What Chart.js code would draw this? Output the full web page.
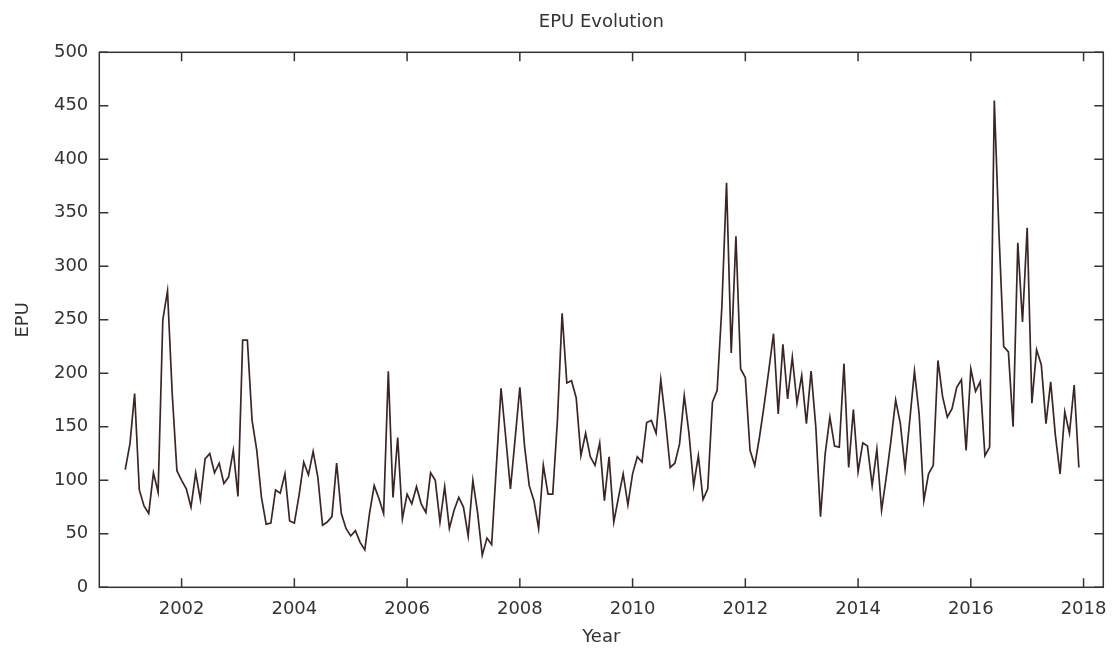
<!DOCTYPE html>
<html>
<head>
<meta charset="utf-8">
<title>EPU Evolution</title>
<script src="https://cdn.jsdelivr.net/npm/chart.js@4.4.1/dist/chart.umd.min.js"></script>
<style>
  html, body { margin: 0; padding: 0; background: #ffffff; }
  #wrap { width: 1115px; height: 651px; }
</style>
</head>
<body>
<div id="wrap"><canvas id="epuChart" width="1115" height="651"></canvas></div>
<script>
// Monthly EPU index, January to December of each year
const firstYear = 2001;
const epu2001 = [110, 134, 181, 91, 76, 69, 107, 89, 250, 277, 181, 109];
const epu2002 = [100, 92, 75, 107, 82, 120, 125, 107, 116, 97, 103, 128];
const epu2003 = [85, 231, 231, 156, 128, 84, 59, 60, 91, 88, 106, 62];
const epu2004 = [60, 86, 117, 105, 127, 103, 58, 61, 66, 116, 69, 55];
const epu2005 = [48, 53, 42, 35, 69, 95, 83, 69, 202, 84, 140, 64];
const epu2006 = [87, 78, 94, 78, 70, 107, 100, 61, 94, 55, 72, 84];
const epu2007 = [75, 48, 100, 70, 30, 46, 40, 113, 186, 140, 92, 139];
const epu2008 = [187, 132, 95, 81, 55, 114, 87, 87, 156, 256, 191, 193];
const epu2009 = [177, 123, 144, 122, 114, 135, 81, 122, 61, 84, 106, 77];
const epu2010 = [106, 122, 117, 154, 156, 144, 194, 156, 112, 116, 134, 179];
const epu2011 = [144, 95, 123, 82, 92, 173, 184, 262, 378, 219, 328, 204];
const epu2012 = [196, 128, 114, 140, 170, 203, 237, 162, 227, 176, 215, 172];
const epu2013 = [198, 153, 202, 150, 66, 125, 159, 132, 131, 209, 112, 166];
const epu2014 = [108, 135, 132, 95, 129, 72, 103, 137, 175, 153, 111, 156];
const epu2015 = [202, 162, 81, 106, 114, 212, 178, 159, 167, 187, 194, 128];
const epu2016 = [204, 183, 192, 123, 131, 455, 330, 225, 220, 150, 322, 248];
const epu2017 = [336, 172, 222, 208, 153, 192, 142, 106, 164, 144, 189, 112];

const epuByYear = [epu2001, epu2002, epu2003, epu2004, epu2005, epu2006, epu2007, epu2008, epu2009,
                   epu2010, epu2011, epu2012, epu2013, epu2014, epu2015, epu2016, epu2017];

// Axis tick labels
const yearTicks = [2002, 2004, 2006, 2008, 2010, 2012, 2014, 2016, 2018];
const epuTicks = [0, 50, 100, 150, 200, 250, 300, 350, 400, 450, 500];

// One point per month, placed at year + month/12
const epuPoints = [];
epuByYear.forEach((months, k) => {
  months.forEach((v, m) => epuPoints.push({ x: firstYear + k + m / 12, y: v }));
});

const axisColor = '#333333';
const fontFamily = "'DejaVu Sans', Verdana, sans-serif";

// Closed frame with short inward tick marks on all four sides
const framePlugin = {
  id: 'frame',
  afterDatasetsDraw(chart) {
    const { ctx, chartArea: a, scales: { x, y } } = chart;
    const len = 9;
    ctx.save();
    ctx.strokeStyle = axisColor;
    ctx.lineWidth = 1.5;
    ctx.beginPath();
    x.ticks.forEach(t => {
      const px = x.getPixelForValue(t.value);
      ctx.moveTo(px, a.bottom); ctx.lineTo(px, a.bottom - len);
      ctx.moveTo(px, a.top);    ctx.lineTo(px, a.top + len);
    });
    y.ticks.forEach(t => {
      const py = y.getPixelForValue(t.value);
      ctx.moveTo(a.left, py);  ctx.lineTo(a.left + len, py);
      ctx.moveTo(a.right, py); ctx.lineTo(a.right - len, py);
    });
    ctx.stroke();
    ctx.strokeRect(a.left, a.top, a.right - a.left, a.bottom - a.top);
    ctx.restore();
  }
};

new Chart(document.getElementById('epuChart'), {
  type: 'line',
  data: {
    datasets: [{
      label: 'EPU',
      data: epuPoints,
      borderColor: '#3a2626',
      borderWidth: 1.7,
      pointRadius: 0,
      tension: 0,
      fill: false
    }]
  },
  options: {
    responsive: false,
    animation: false,
    devicePixelRatio: 1,
    layout: { padding: { left: 0, right: 11.7, top: 0, bottom: 0 } },
    plugins: {
      legend: { display: false },
      tooltip: { enabled: false },
      title: {
        display: true,
        fullSize: false,
        text: 'EPU Evolution',
        color: axisColor,
        font: { family: fontFamily, size: 18, weight: 'normal', lineHeight: 1.2 },
        padding: { top: 11.2, bottom: 19.5 }
      }
    },
    scales: {
      x: {
        type: 'linear',
        min: 2000.54,
        max: 2018.35,
        afterBuildTicks: s => { s.ticks = yearTicks.map(v => ({ value: v })); },
        afterFit: s => { s.height = 63.7; s.paddingLeft = 0; s.paddingRight = 0; },
        grid: { display: false, drawTicks: false },
        border: { display: false },
        ticks: {
          color: axisColor,
          padding: 11.5,
          maxRotation: 0,
          autoSkip: false,
          font: { family: fontFamily, size: 18 },
          callback: v => String(v)
        },
        title: {
          display: true,
          text: 'Year',
          color: axisColor,
          font: { family: fontFamily, size: 18, lineHeight: 1.2 },
          padding: { top: 0, bottom: 2.5 }
        }
      },
      y: {
        min: 0,
        max: 500,
        afterBuildTicks: s => { s.ticks = epuTicks.map(v => ({ value: v })); },
        afterFit: s => { s.width = 99.3; },
        grid: { display: false, drawTicks: false },
        border: { display: false },
        ticks: {
          color: axisColor,
          padding: 11,
          autoSkip: false,
          font: { family: fontFamily, size: 18 },
          callback: v => String(v)
        },
        title: {
          display: true,
          text: 'EPU',
          color: axisColor,
          font: { family: fontFamily, size: 18, lineHeight: 1.2 },
          padding: { top: 12.5, bottom: 0 }
        }
      }
    }
  },
  plugins: [framePlugin]
});
</script>
</body>
</html>
